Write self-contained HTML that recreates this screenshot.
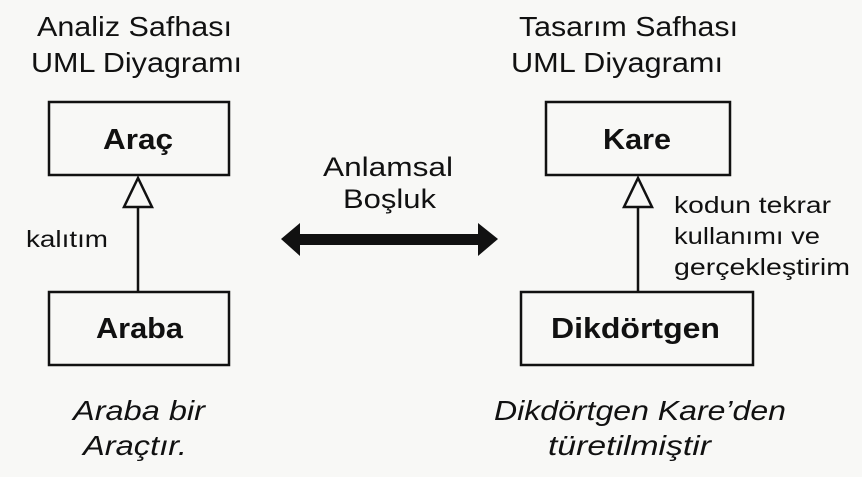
<!DOCTYPE html>
<html><head><meta charset="utf-8"><style>
body{margin:0;background:#f8f8f6;}
svg{display:block}
text{font-family:"Liberation Sans","DejaVu Sans",sans-serif;fill:#111}
</style></head><body>
<svg width="862" height="477" viewBox="0 0 862 477">
<rect width="862" height="477" fill="#f8f8f6"/>
<g font-size="28" font-weight="500">
<text x="37" y="36" textLength="195" lengthAdjust="spacingAndGlyphs">Analiz Safhası</text>
<text x="31" y="72" textLength="211" lengthAdjust="spacingAndGlyphs">UML Diyagramı</text>
<text x="519" y="36" textLength="219" lengthAdjust="spacingAndGlyphs">Tasarım Safhası</text>
<text x="511" y="72" textLength="212" lengthAdjust="spacingAndGlyphs">UML Diyagramı</text>
</g>
<g fill="none" stroke="#111" stroke-width="2.5">
<rect x="49" y="102" width="180" height="73"/>
<rect x="49" y="292" width="180" height="73"/>
<rect x="546" y="102" width="184" height="73"/>
<rect x="521" y="292" width="232" height="73"/>
<line x1="138" y1="207" x2="138" y2="292"/>
<line x1="638" y1="207" x2="638" y2="292"/>
<polygon points="138,178 124,207 152,207"/>
<polygon points="638,178 624,207 652,207"/>
</g>
<g font-size="29" font-weight="bold">
<text x="103" y="149" textLength="70" lengthAdjust="spacingAndGlyphs">Araç</text>
<text x="96" y="338" textLength="87" lengthAdjust="spacingAndGlyphs">Araba</text>
<text x="603" y="149" textLength="68" lengthAdjust="spacingAndGlyphs">Kare</text>
<text x="551" y="338" textLength="169" lengthAdjust="spacingAndGlyphs">Dikdörtgen</text>
</g>
<g font-size="27" font-weight="500">
<text x="323" y="176" textLength="130" lengthAdjust="spacingAndGlyphs">Anlamsal</text>
<text x="343" y="208" textLength="93" lengthAdjust="spacingAndGlyphs">Boşluk</text>
</g>
<rect x="298" y="234" width="182" height="11" fill="#111"/>
<polygon points="281,239 300,223 300,256" fill="#111"/>
<polygon points="498,239 478,223 478,256" fill="#111"/>
<g font-size="23">
<text x="26" y="247" textLength="82" lengthAdjust="spacingAndGlyphs">kalıtım</text>
<text x="674" y="213" textLength="157" lengthAdjust="spacingAndGlyphs">kodun tekrar</text>
<text x="674" y="244" textLength="146" lengthAdjust="spacingAndGlyphs">kullanımı ve</text>
<text x="674" y="275" textLength="176" lengthAdjust="spacingAndGlyphs">gerçekleştirim</text>
</g>
<g font-size="28" font-style="italic">
<text x="73" y="420" textLength="132" lengthAdjust="spacingAndGlyphs">Araba bir</text>
<text x="83" y="455" textLength="104" lengthAdjust="spacingAndGlyphs">Araçtır.</text>
<text x="494" y="420" textLength="292" lengthAdjust="spacingAndGlyphs">Dikdörtgen Kare’den</text>
<text x="548" y="455" textLength="163" lengthAdjust="spacingAndGlyphs">türetilmiştir</text>
</g>
</svg>
</body></html>
